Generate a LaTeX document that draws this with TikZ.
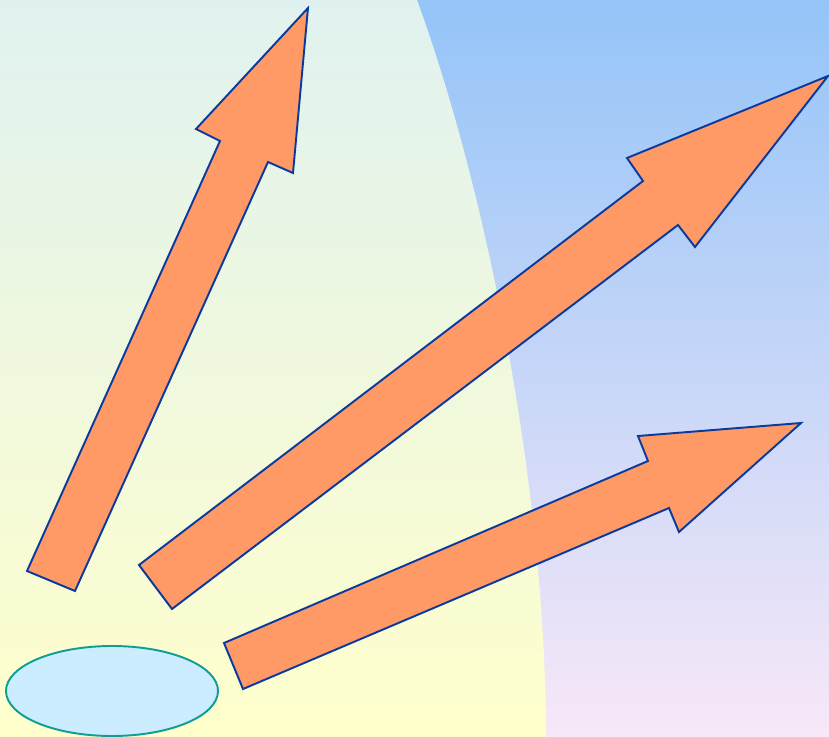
\documentclass[tikz,border=0pt]{standalone}
\usetikzlibrary{calc}

\definecolor{skytop}{HTML}{94C4F8}
\definecolor{skybot}{HTML}{F8E8F8}
\definecolor{fieldtop}{HTML}{E0F2F0}
\definecolor{fieldbot}{HTML}{FFFFCC}
\definecolor{arrowfill}{HTML}{FF9966}
\definecolor{arrowline}{HTML}{0A3A9E}
\definecolor{padfill}{HTML}{CCECFF}
\definecolor{padline}{HTML}{0E9E96}

\tikzset{
  bigarrow/.style={fill=arrowfill, draw=arrowline, line width=1.1pt, line join=miter},
  pad/.style={fill=padfill, draw=padline, line width=1.1pt}
}

\begin{document}
\begin{tikzpicture}[x=0.02cm, y=-0.02cm]

  % --- 1. 背景 ---
  \useasboundingbox (0,0) rectangle (829,737);
  \shade[top color=skytop, bottom color=skybot] (0,0) rectangle (829,737);
  \shade[top color=fieldtop, bottom color=fieldbot]
    (0,0) -- (417,0) .. controls (490,200) and (546,500) .. (546,737) -- (0,737) -- cycle;

  % --- 2. 楕円 ---
  \draw[pad] (112,691) ellipse (106 and 45);

  % --- 3. 矢印 1 (上向き) ---
  \coordinate (A1t) at (308,8);
  \draw[bigarrow] (27,571) -- (220,141) -- (196,129) -- (A1t)
    -- (293,173) -- (268,162) -- (75,591) -- cycle;

  % --- 4. 矢印 2 (右上) ---
  \coordinate (A2t) at (828,76);
  \draw[bigarrow] (139,565) -- (643,181) -- (627,158) -- (A2t)
    -- (695,247) -- (678,225) -- (172,609) -- cycle;

  % --- 5. 矢印 3 (右) ---
  \coordinate (A3t) at (801,423);
  \draw[bigarrow] (224,643) -- (648,461) -- (638,436) -- (A3t)
    -- (679,532) -- (669,508) -- (243,689) -- cycle;

\end{tikzpicture}
\end{document}
